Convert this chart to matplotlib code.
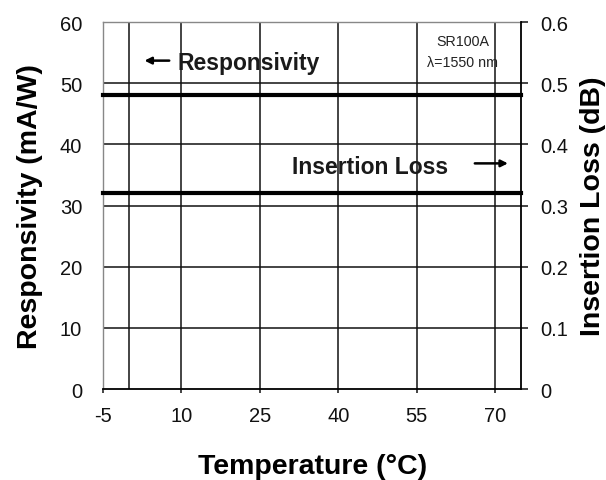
import matplotlib
matplotlib.use('Agg')
import matplotlib.pyplot as plt
from matplotlib import font_manager

plt.rcParams['font.family'] = ['Liberation Sans', 'DejaVu Sans']
plt.rcParams['axes.unicode_minus'] = False

temps = [-5, 75]
responsivity = [48, 48]
insertion_loss = [0.32, 0.32]
x_ticks = [-5, 10, 25, 40, 55, 70]
x_grid = [0, 10, 25, 40, 55, 70]
left_ticks = [0, 10, 20, 30, 40, 50, 60]
right_ticks = [0, 0.1, 0.2, 0.3, 0.4, 0.5, 0.6]
right_labels = ['0', '0.1', '0.2', '0.3', '0.4', '0.5', '0.6']

# narrow digits like the original if available
names = {f.name for f in font_manager.fontManager.ttflist}
tick_family = 'Liberation Sans Narrow' if 'Liberation Sans Narrow' in names else 'Liberation Sans'
tick_size = 16 if tick_family == 'Liberation Sans Narrow' else 14.5

fig = plt.figure(figsize=(6.06, 4.81), dpi=100)
ax = fig.add_axes([0.170, 0.189, 0.690, 0.763])
ax2 = ax.twinx()

ax.set_xlim(-5, 75)
ax.set_ylim(0, 60)
ax2.set_ylim(0, 0.6)

# grid lines
for x in x_grid:
    ax.axvline(x, color='#111111', lw=1.1, zorder=1)
for y in left_ticks[1:-1]:
    ax.axhline(y, color='#111111', lw=1.1, zorder=1)

ax.plot(temps, responsivity, color='black', lw=3.0, zorder=3, clip_on=False)
ax2.plot(temps, insertion_loss, color='black', lw=3.0, zorder=3, clip_on=False)

ax.set_xticks(x_ticks)
ax.set_yticks(left_ticks)
ax2.set_yticks(right_ticks)
ax2.set_yticklabels(right_labels)

ax.tick_params(axis='x', direction='out', length=3, width=1.1, labelsize=tick_size, pad=9, colors='#111111')
ax.tick_params(axis='y', length=0, labelsize=tick_size, pad=15, colors='#111111')
ax2.tick_params(axis='y', direction='out', length=5, width=1.1, labelsize=tick_size, pad=9, colors='#111111')
for lab in ax.get_xticklabels() + ax.get_yticklabels() + ax2.get_yticklabels():
    lab.set_family(tick_family)

for s in ['left', 'top']:
    ax.spines[s].set_color('#888888')
    ax.spines[s].set_linewidth(1.0)
ax.spines['bottom'].set_linewidth(1.3)
ax.spines['right'].set_visible(False)
for s in ['left', 'top', 'bottom']:
    ax2.spines[s].set_visible(False)
ax2.spines['right'].set_linewidth(1.3)

ax.set_xlabel('Temperature (°C)', fontsize=20.5, fontweight='bold', labelpad=20)
ax.set_ylabel('Responsivity (mA/W)', fontsize=20.5, fontweight='bold', labelpad=12)
ax2.set_ylabel('Insertion Loss (dB)', fontsize=20.5, fontweight='bold', labelpad=8)

# annotations
ax.text(9.2, 53.4, 'Responsivity', fontsize=16.5, fontweight='bold', color='#1a1a1a',
        va='center', ha='left', zorder=5)
ax.annotate('', xy=(2.4, 53.7), xytext=(8.2, 53.7),
            arrowprops=dict(arrowstyle='-|>', color='black', lw=1.8, mutation_scale=10), zorder=5)
ax.text(46.1, 36.4, 'Insertion Loss', fontsize=16.5, fontweight='bold', color='#1a1a1a',
        va='center', ha='center', zorder=5)
ax.annotate('', xy=(73.0, 36.9), xytext=(65.6, 36.9),
            arrowprops=dict(arrowstyle='-|>', color='black', lw=1.8, mutation_scale=10), zorder=5)
ax.text(63.8, 56.9, 'SR100A', fontsize=10.3, ha='center', va='center', color='#222222', zorder=4)
ax.text(63.8, 53.4, 'λ=1550 nm', fontsize=10.3, ha='center', va='center', color='#222222', zorder=4)

fig.savefig('out.png', dpi=100)
